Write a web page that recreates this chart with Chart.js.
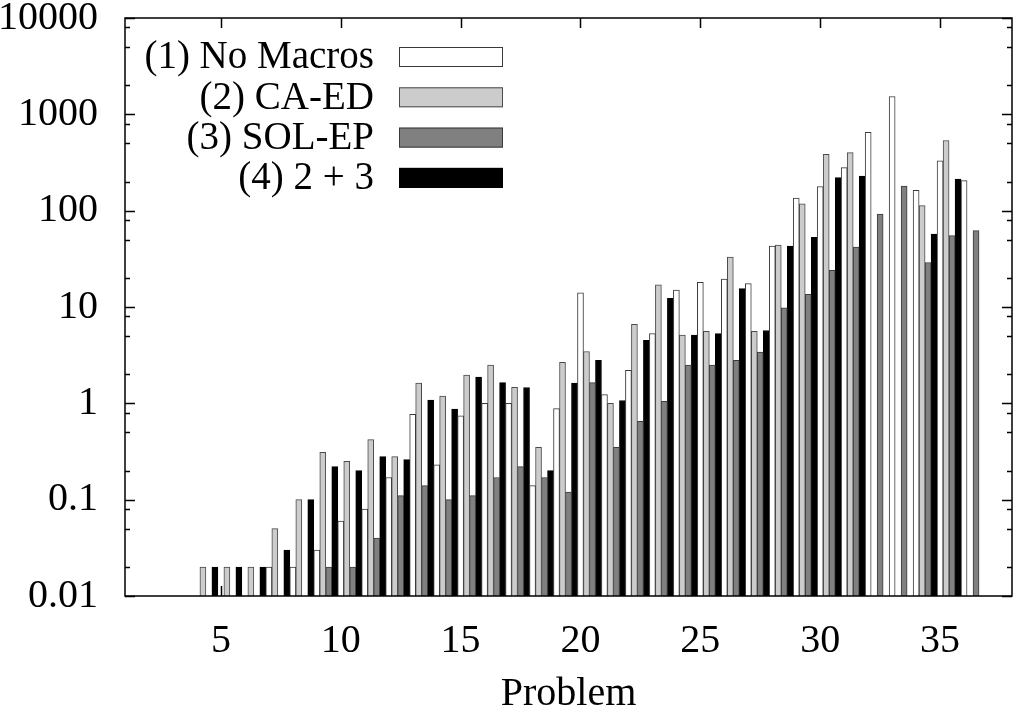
<!DOCTYPE html>
<html>
<head>
<meta charset="utf-8">
<script src="https://cdn.jsdelivr.net/npm/chart.js@4.4.1/dist/chart.umd.min.js"></script>
<style>
  html, body { margin: 0; padding: 0; background: #ffffff; }
  #wrap { width: 1018px; height: 719px; position: relative; }
</style>
</head>
<body>
<div id="wrap"><canvas id="c" width="1018" height="719"></canvas></div>
<script>
// ---- data ----
const problems = [4, 5, 6, 7, 8, 9, 10, 11, 12, 13, 14, 15, 16, 17, 18, 19, 20,
                  21, 22, 23, 24, 25, 26, 27, 28, 29, 30, 31, 32, 33, 34, 35, 36];
const seriesLabels = ['(1) No Macros', '(2) CA-ED', '(3) SOL-EP', '(4) 2 + 3'];
const noMacros = [null, null, null, 0.02, 0.02, 0.03, 0.06, 0.08, 0.17, 0.77, 0.23, 0.74, 1.0, 1.0, 0.14, 0.88, 14,
                  1.23, 2.2, 5.3, 15, 18, 19.5, 17.5, 43, 135, 178, 280, 650, 1530, 163, 330, 205];
const caEd     = [0.02, 0.02, 0.02, 0.05, 0.1, 0.31, 0.25, 0.42, 0.28, 1.62, 1.19, 1.97, 2.5, 1.47, 0.35, 2.67, 3.45,
                  1.0, 6.6, 17, 5.1, 5.6, 33, 5.6, 44, 118, 385, 400, null, null, 113, 535, null];
const solEp    = [null, null, null, null, null, 0.02, 0.02, 0.04, 0.11, 0.14, 0.1, 0.11, 0.17, 0.22, 0.17, 0.12, 1.64,
                  0.35, 0.65, 1.05, 2.5, 2.5, 2.8, 3.4, 9.8, 13.5, 24, 42, 92, 180, 29, 55, 62];
const combined = [0.02, 0.02, 0.02, 0.03, 0.1, 0.22, 0.2, 0.28, 0.26, 1.08, 0.87, 1.87, 1.64, 1.46, 0.2, 1.62, 2.8,
                  1.07, 4.5, 12.3, 5.1, 5.3, 15.5, 5.7, 43, 53, 220, 228, null, null, 57, 213, null];
const xTicks = [5, 10, 15, 20, 25, 30, 35];
const yTicks = [0.01, 0.1, 1, 10, 100, 1000, 10000];
const yMinorFactors = [2, 5, 8];

// ---- styling ----
const FONT = '"Liberation Serif", "Times New Roman", serif';
const FSIZE = 40;
const LEGEND_FSIZE = 39;
const fills = ['#ffffff', '#cccccc', '#808080', '#000000'];
const borders = ['#3a3a3a', '#4a4a4a', '#3a3a3a', '#000000'];
const GROUP_CENTER = 0.375; // cluster of 4 bars starts at the problem number

const allSeries = [noMacros, caEd, solEp, combined];
const datasets = allSeries.map((arr, i) => ({
  label: seriesLabels[i],
  data: problems.map((p, k) => ({ x: p + GROUP_CENTER, y: arr[k] })),
  backgroundColor: fills[i],
  borderColor: borders[i],
  borderWidth: 1,
  borderSkipped: 'start',
  categoryPercentage: 1.0,
  barPercentage: 1.0
}));

const axisPlugin = {
  id: 'gnuplotAxes',
  beforeDatasetsDraw(chart) {
    const { ctx, chartArea: a, scales: { x, y } } = chart;
    ctx.save();
    ctx.strokeStyle = '#000';
    ctx.lineWidth = 1.5;
    ctx.beginPath();
    yTicks.forEach(v => {
      const py = Math.round(y.getPixelForValue(v)) + 0.5;
      ctx.moveTo(a.left, py); ctx.lineTo(a.left + 10, py);
      ctx.moveTo(a.right, py); ctx.lineTo(a.right - 10, py);
    });
    for (let d = 0; d < yTicks.length - 1; d++) {
      yMinorFactors.forEach(f => {
        const py = Math.round(y.getPixelForValue(yTicks[d] * f)) + 0.5;
        ctx.moveTo(a.left, py); ctx.lineTo(a.left + 5, py);
        ctx.moveTo(a.right, py); ctx.lineTo(a.right - 5, py);
      });
    }
    xTicks.forEach(v => {
      const px = Math.round(x.getPixelForValue(v)) + 0.5;
      ctx.moveTo(px, a.bottom); ctx.lineTo(px, a.bottom - 10);
      ctx.moveTo(px, a.top); ctx.lineTo(px, a.top + 10);
    });
    ctx.stroke();
    ctx.restore();
  },
  afterDatasetsDraw(chart) {
    const { ctx, chartArea: a } = chart;
    ctx.save();
    ctx.strokeStyle = '#000';
    ctx.lineWidth = 1.5;
    ctx.strokeRect(a.left, a.top, a.width, a.height);
    ctx.restore();
  },
  afterDraw(chart) {
    const { ctx, chartArea: a } = chart;
    ctx.save();
    ctx.font = LEGEND_FSIZE + 'px ' + FONT;
    ctx.textAlign = 'right';
    ctx.textBaseline = 'middle';
    chart.data.datasets.forEach((ds, i) => {
      const cy = a.top + 39 + i * 40.3;
      ctx.fillStyle = '#000';
      ctx.fillText(ds.label, a.left + 249, cy + 1);
      const sx = a.left + 274, sw = 104, sh = 20;
      ctx.fillStyle = ds.backgroundColor;
      ctx.fillRect(sx, cy - sh / 2, sw, sh);
      ctx.strokeStyle = ds.borderColor;
      ctx.lineWidth = 1;
      ctx.strokeRect(sx + 0.5, cy - sh / 2 + 0.5, sw - 1, sh - 1);
    });
    ctx.restore();
  }
};

new Chart(document.getElementById('c'), {
  type: 'bar',
  data: { datasets },
  options: {
    responsive: false,
    devicePixelRatio: 1,
    animation: false,
    layout: { padding: { top: 18, right: 6, left: 0, bottom: 0 } },
    plugins: { legend: { display: false }, tooltip: { enabled: false } },
    scales: {
      x: {
        type: 'linear',
        min: 1,
        max: 38,
        offset: false,
        afterBuildTicks: s => { s.ticks = xTicks.map(v => ({ value: v })); },
        afterFit: s => { s.height = 123; s.paddingLeft = 0; s.paddingRight = 0; },
        grid: { display: false, drawTicks: false },
        border: { display: false },
        ticks: {
          color: '#000', font: { family: FONT, size: FSIZE }, padding: 21,
          maxRotation: 0, autoSkip: false,
          callback: v => String(v)
        },
        title: {
          display: true, text: 'Problem', color: '#000',
          font: { family: FONT, size: FSIZE }, padding: { top: 0, bottom: 1 }
        }
      },
      y: {
        type: 'logarithmic',
        min: 0.01,
        max: 10000,
        afterBuildTicks: s => { s.ticks = yTicks.map(v => ({ value: v })); },
        afterFit: s => { s.width = 125; s.paddingTop = 0; s.paddingBottom = 0; },
        grid: { display: false, drawTicks: false },
        border: { display: false },
        ticks: {
          color: '#000', font: { family: FONT, size: FSIZE }, padding: 27,
          autoSkip: false,
          callback: v => String(v)
        }
      }
    }
  },
  plugins: [axisPlugin]
});
</script>
</body>
</html>
